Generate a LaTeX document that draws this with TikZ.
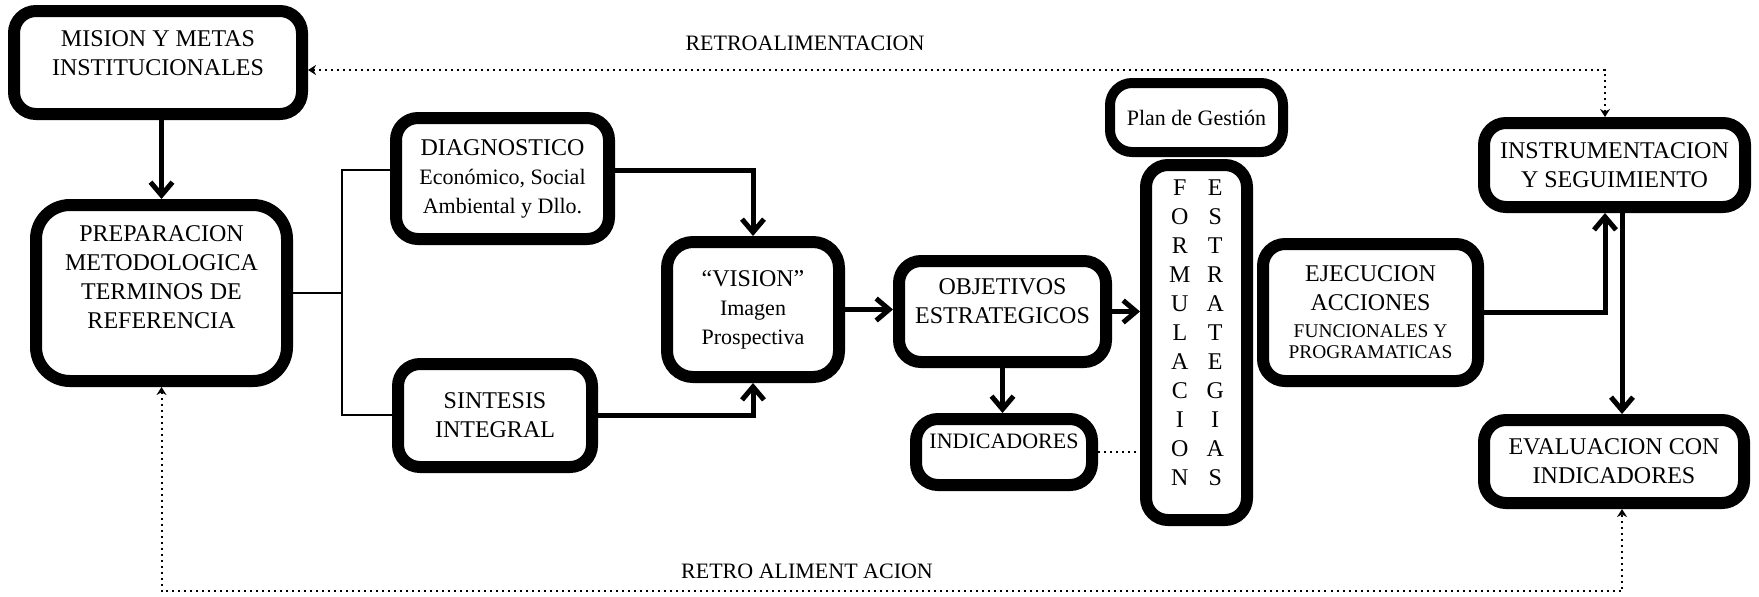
\documentclass[tikz,border=0pt]{standalone}
\usepackage{fontspec}
\setmainfont{Liberation Serif}
\usetikzlibrary{arrows.meta}

\newcommand{\midtxt}{\fontsize{11}{13.5}\selectfont}
\newcommand{\smalltxt}{\fontsize{9.7}{10.5}\selectfont}

\tikzset{
  box/.style={draw, line width=6pt, rounded corners=11pt, align=center, inner sep=2pt,
    font=\fontsize{12}{14.5}\selectfont},
  arr/.style={line width=2.5pt, -{Straight Barb[length=6.5pt,width=11pt]}},
  link/.style={line width=1.2pt},
  fb/.style={line width=1pt, dotted},
  fbarr/.style={fb, {Stealth[length=4pt,width=5pt]}-{Stealth[length=4pt,width=5pt]}},
  lbl/.style={font=\fontsize{11}{13}\selectfont}
}

\begin{document}
\begin{tikzpicture}[x=0.5pt,y=-0.5pt]
\useasboundingbox (0,0) rectangle (1759,596);

% boxes
\node[box, minimum width=144pt, minimum height=51.5pt] (mision) at (158,62.5) {MISION Y METAS\\INSTITUCIONALES\\[-5.5pt]};
\node[box, rounded corners=17pt, minimum width=125.5pt, minimum height=88pt] (prep) at (161.5,293) {PREPARACION\\METODOLOGICA\\TERMINOS DE\\REFERENCIA\\[1.5pt]};
\node[box, minimum width=106.5pt, minimum height=60.5pt] (diag) at (502.5,178.5) {DIAGNOSTICO\\{\midtxt Económico, Social}\\{\midtxt Ambiental y Dllo.}};
\node[box, minimum width=97pt, minimum height=51.5pt] (sint) at (495,415.5) {SINTESIS\\INTEGRAL};
\node[box, rounded corners=13pt, minimum width=86pt, minimum height=67.5pt] (vision) at (753,309.5) {``VISION''\\{\midtxt Imagen}\\{\midtxt Prospectiva}};
\node[box, minimum width=103.5pt, minimum height=50.5pt] (objet) at (1002.5,311.5) {OBJETIVOS\\ESTRATEGICOS\\[-4.5pt]};
\node[box, minimum width=88pt, minimum height=33pt, font=\midtxt] (indic) at (1004,452) {INDICADORES\\[-2.5pt]};
\node[box, line width=5pt, minimum width=86.5pt, minimum height=34.5pt, font=\midtxt] (plan) at (1196.5,117.5) {Plan de Gestión};
\node[box, minimum width=50.5pt, minimum height=177.5pt] (formul) at (1196.5,342.5)
  {\begin{tabular}{@{}c@{\hspace{8pt}}c@{}}
   F&E\\O&S\\R&T\\M&R\\U&A\\L&T\\A&E\\C&G\\I&I\\O&A\\N&S\\[8pt]
   \end{tabular}};
\node[box, minimum width=107.5pt, minimum height=68.5pt] (ejec) at (1370.5,312.5) {EJECUCION\\ACCIONES\\[-1pt]{\smalltxt FUNCIONALES Y}\\[-4pt]{\smalltxt PROGRAMATICAS}};
\node[box, minimum width=130.5pt, minimum height=42pt] (instr) at (1614.5,165) {INSTRUMENTACION\\Y SEGUIMIENTO};
\node[box, minimum width=130pt, minimum height=41.5pt] (eval) at (1614,461.5) {EVALUACION CON\\INDICADORES};

% labels
\node[lbl] (retrotop) at (805,43) {RETROALIMENTACION};
\node[lbl] (retrobot) at (807,571) {RETRO ALIMENT ACION};

% helper points
\coordinate (brtop) at (342,170);
\coordinate (brbot) at (342,415);
\coordinate (upx) at (1605,70);
\coordinate (dnx) at (1622,591);

% connectors
\draw[arr] (prep.north |- mision.south) -- (prep.north);
\draw[link] (prep.east) -- (prep.east -| brtop);
\draw[link] (diag.west |- brtop) -- (brtop) -- (brbot) -- (sint.west |- brbot);
\draw[arr] (diag.east |- brtop) -| (vision.north);
\draw[arr] (sint.east) -| (vision.south);
\draw[arr] (vision.east) -- (vision.east -| objet.west);
\draw[arr] (objet.east) -- (objet.east -| formul.west);
\draw[arr] (objet.south) -- (objet.south |- indic.north);
\draw[fb] (indic.east) -- (indic.east -| formul.west);
\draw[arr] (ejec.east) -| (upx |- instr.south);
\draw[arr] (dnx |- instr.south) -- (dnx |- eval.north);

% feedback
\draw[fbarr] (upx |- instr.north) -- (upx) -- (upx -| mision.east);
\draw[fbarr] (prep.south) -- (prep.south |- dnx) -- (dnx) -- (dnx |- eval.south);

\end{tikzpicture}
\end{document}
